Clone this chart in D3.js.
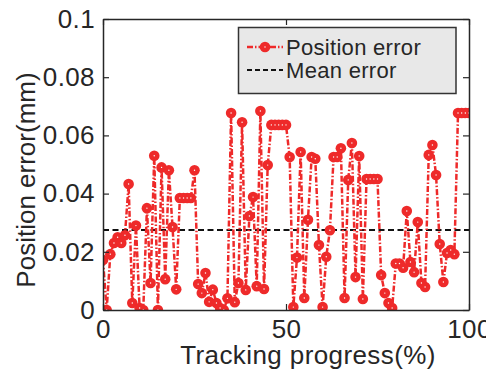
<!DOCTYPE html>
<html>
<head>
<meta charset="utf-8">
<script src="https://cdn.jsdelivr.net/npm/d3@7"></script>
<style>
  body { margin: 0; background: #fff; }
  text { font-family: "Liberation Sans", Arial, sans-serif; fill: #262626; }
</style>
</head>
<body>
<script>
// data
var progress = d3.range(0, 101);   // tracking progress (%), one sample per percent
var posError = [
  0.0172, 0.0000, 0.0192, 0.0230, 0.0250, 0.0230, 0.0257, 0.0433, 0.0024, 0.0290,
  0.0007, 0.0000, 0.0350, 0.0093, 0.0530, 0.0000, 0.0490, 0.0106, 0.0480, 0.0285,
  0.0071, 0.0385, 0.0385, 0.0385, 0.0385, 0.0480, 0.0089, 0.0058, 0.0127, 0.0028,
  0.0070, 0.0024, 0.0007, 0.0000, 0.0040, 0.0677, 0.0027, 0.0093, 0.0645, 0.0069,
  0.0323, 0.0388, 0.0082, 0.0684, 0.0072, 0.0498, 0.0636, 0.0636, 0.0636, 0.0636,
  0.0636, 0.0526, 0.0010, 0.0180, 0.0543, 0.0041, 0.0310, 0.0526, 0.0520, 0.0223,
  0.0010, 0.0183, 0.0274, 0.0526, 0.0526, 0.0556, 0.0041, 0.0447, 0.0574, 0.0113,
  0.0529, 0.0038, 0.0450, 0.0450, 0.0450, 0.0450, 0.0120, 0.0058, 0.0024, 0.0007,
  0.0160, 0.0160, 0.0145, 0.0340, 0.0165, 0.0130, 0.0302, 0.0093, 0.0079, 0.0533,
  0.0567, 0.0464, 0.0227, 0.0096, 0.0196, 0.0206, 0.0192, 0.0677, 0.0677, 0.0677,
  0.0677
];
var meanError = 0.0275;
var xTicks = [0, 50, 100];
var yTicks = [0, 0.02, 0.04, 0.06, 0.08, 0.1];
var legendLabels = ["Position error", "Mean error"];

var width = 486, height = 374;
var margin = { top: 19, right: 17, bottom: 64, left: 103 };
var red = "#ee2a2a";

var svg = d3.select("body").append("svg")
  .attr("width", width)
  .attr("height", height);

var x = d3.scaleLinear().domain([0, 100]).range([margin.left, width - margin.right]);
var y = d3.scaleLinear().domain([0, 0.1]).range([height - margin.bottom, margin.top]);

var points = progress.map(function(p, i) { return [p, posError[i]]; });

// clip so markers at the edges get cut like the original
svg.append("clipPath").attr("id", "clip")
  .append("rect")
  .attr("x", margin.left).attr("y", margin.top)
  .attr("width", x(100) - x(0)).attr("height", y(0) - y(0.1));

var plot = svg.append("g").attr("clip-path", "url(#clip)");

// mean line
plot.append("line")
  .attr("x1", x(0)).attr("x2", x(100))
  .attr("y1", y(meanError)).attr("y2", y(meanError))
  .attr("stroke", "#111")
  .attr("stroke-width", 2)
  .attr("stroke-dasharray", "6,3.5");

// error line
var line = d3.line()
  .x(function(d) { return x(d[0]); })
  .y(function(d) { return y(d[1]); });

plot.append("path")
  .datum(points)
  .attr("d", line)
  .attr("fill", "none")
  .attr("stroke", red)
  .attr("stroke-width", 2.5)
  .attr("stroke-dasharray", "6,2,1.5,2");

// markers
plot.selectAll(".dot")
  .data(points)
  .enter().append("circle")
  .attr("class", "dot")
  .attr("cx", function(d) { return x(d[0]); })
  .attr("cy", function(d) { return y(d[1]); })
  .attr("r", 5.3)
  .attr("fill", red);

plot.selectAll(".pip")
  .data(points)
  .enter().append("circle")
  .attr("class", "pip")
  .attr("cx", function(d) { return x(d[0]); })
  .attr("cy", function(d) { return y(d[1]); })
  .attr("r", 0.7)
  .attr("fill", "#fff");

// axes, ticks inward, box around
var axisColor = "#262626";
var fontSize = 26;

svg.append("g")
  .attr("transform", "translate(0," + y(0) + ")")
  .call(d3.axisBottom(x).tickValues(xTicks).tickSizeInner(-6).tickSizeOuter(0).tickPadding(10))
  .call(styleAxis);

svg.append("g")
  .attr("transform", "translate(0," + y(0.1) + ")")
  .call(d3.axisTop(x).tickValues(xTicks).tickSizeInner(-6).tickSizeOuter(0).tickFormat(""))
  .call(styleAxis);

svg.append("g")
  .attr("transform", "translate(" + x(0) + ",0)")
  .call(d3.axisLeft(y).tickValues(yTicks).tickSizeInner(-6).tickSizeOuter(0).tickPadding(8)
    .tickFormat(function(d) { return d === 0 ? "0" : d3.format("~g")(d); }))
  .call(styleAxis);

svg.append("g")
  .attr("transform", "translate(" + x(100) + ",0)")
  .call(d3.axisRight(y).tickValues(yTicks).tickSizeInner(-6).tickSizeOuter(0).tickFormat(""))
  .call(styleAxis);

function styleAxis(g) {
  g.select(".domain").attr("stroke", axisColor).attr("stroke-width", 1.5);
  g.selectAll(".tick line").attr("stroke", axisColor).attr("stroke-width", 1.2);
  g.selectAll(".tick text")
    .attr("fill", axisColor)
    .style("font-family", "'Liberation Sans', Arial, sans-serif")
    .style("font-size", fontSize + "px")
    .style("letter-spacing", "0.4px");
}

// axis titles
svg.append("text")
  .attr("x", 308)
  .attr("y", 364)
  .attr("text-anchor", "middle")
  .style("font-size", fontSize + "px")
  .style("letter-spacing", "0.4px")
  .text("Tracking progress(%)");

svg.append("text")
  .attr("transform", "translate(35," + 180 + ") rotate(-90)")
  .attr("text-anchor", "middle")
  .style("font-size", fontSize + "px")
  .text("Position error(mm)");

// legend
var legend = svg.append("g");
legend.append("rect")
  .attr("x", 238.5).attr("y", 27.5)
  .attr("width", 217.5).attr("height", 66)
  .attr("fill", "#e8e8e8")
  .attr("stroke", "#333")
  .attr("stroke-width", 1.5);

legend.append("line")
  .attr("x1", 247).attr("x2", 283).attr("y1", 47).attr("y2", 47)
  .attr("stroke", red).attr("stroke-width", 2.5)
  .attr("stroke-dasharray", "6,2,1.5,2");
legend.append("circle").attr("cx", 265).attr("cy", 47).attr("r", 5.3).attr("fill", red);
legend.append("circle").attr("cx", 265).attr("cy", 47).attr("r", 0.7).attr("fill", "#fff");

legend.append("line")
  .attr("x1", 247).attr("x2", 283).attr("y1", 70).attr("y2", 70)
  .attr("stroke", "#111").attr("stroke-width", 2)
  .attr("stroke-dasharray", "5,3");

legend.selectAll(".lab")
  .data(legendLabels)
  .enter().append("text")
  .attr("class", "lab")
  .attr("x", 286)
  .attr("y", function(d, i) { return 55 + i * 23; })
  .style("font-size", "22px")
  .style("letter-spacing", "0.3px")
  .text(function(d) { return d; });
</script>
</body>
</html>
